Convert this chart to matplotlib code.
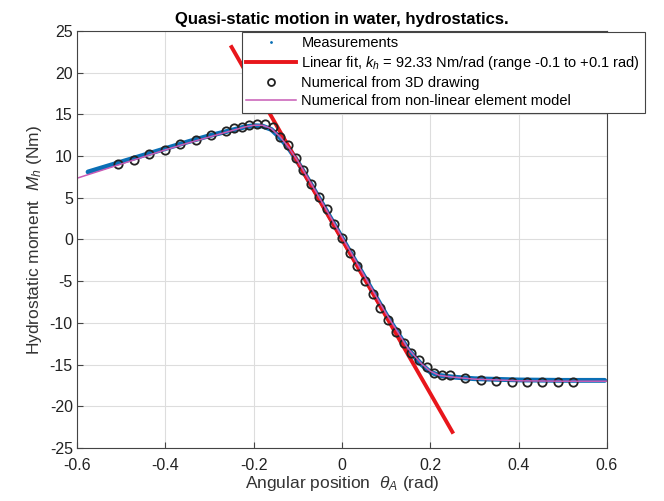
import numpy as np
import matplotlib
matplotlib.use('Agg')
import matplotlib.pyplot as plt
from matplotlib.lines import Line2D

plt.rcParams['font.family'] = ['Liberation Sans', 'DejaVu Sans']
plt.rcParams['mathtext.fontset'] = 'custom'
plt.rcParams['mathtext.it'] = 'Liberation Sans:italic'
plt.rcParams['mathtext.rm'] = 'Liberation Sans'

meas_theta = [-0.575, -0.5, -0.45, -0.4, -0.35, -0.3, -0.25, -0.22, -0.2, -0.18,
              -0.16, -0.14, -0.12, -0.1, -0.05, 0.0, 0.05, 0.1, 0.15, 0.18,
              0.2, 0.22, 0.25, 0.3, 0.4, 0.5, 0.595]
meas_moment = [8.1, 9.3, 10.1, 10.9, 11.7, 12.45, 13.1, 13.5, 13.65, 13.6,
               13.2, 12.2, 10.9, 9.3, 4.8, 0.2, -4.4, -9.0, -13.2, -15.0,
               -15.9, -16.3, -16.5, -16.7, -16.85, -16.9, -16.9]

# Linear fit
kh = 92.33
fit_theta = [-0.25, 0.25]

# Numerical from 3D drawing (degrees)
num3d_deg = [-29, -27, -25, -23, -21, -19, -17, -15, -14, -13, -12, -11, -10, -9,
             -8, -7, -6, -5, -4, -3, -2, -1, 0, 1, 2, 3, 4, 5, 6, 7, 8, 9, 10,
             11, 12, 13, 14, 16, 18, 20, 22, 24, 26, 28, 30]
num3d_moment = [9.0, 9.5, 10.2, 10.7, 11.4, 11.9, 12.5, 13.0, 13.4, 13.5, 13.7, 13.9, 13.8, 13.45,
                12.3, 11.3, 9.8, 8.3, 6.7, 5.1, 3.6, 1.8, 0.2, -1.6, -3.2, -5.0, -6.5, -8.25,
                -9.65, -11.05, -12.45, -13.6, -14.5, -15.3, -15.97, -16.3, -16.3, -16.65,
                -16.85, -16.97, -17.05, -17.05, -17.05, -17.05, -17.05]

# Numerical from non-linear element model
nl_theta = [-0.6, -0.55, -0.5, -0.45, -0.4, -0.35, -0.3, -0.25, -0.22, -0.2, -0.18,
            -0.16, -0.14, -0.12, -0.1, -0.05, 0.0, 0.05, 0.1, 0.15, 0.18, 0.2,
            0.22, 0.25, 0.3, 0.4, 0.5, 0.6]
nl_moment = [7.35, 8.2, 9.05, 9.9, 10.75, 11.55, 12.3, 13.05, 13.5, 13.7, 13.7,
             13.3, 12.3, 11.0, 9.4, 4.9, 0.3, -4.3, -8.9, -13.1, -14.9, -15.8,
             -16.3, -16.5, -16.75, -16.95, -17.0, -17.0]

fig = plt.figure(figsize=(6.64, 5.01), dpi=100)
ax = fig.add_axes([0.116, 0.106, 0.798, 0.832])

ax.plot(meas_theta, meas_moment, color='#0a6fb5', lw=3.5, solid_capstyle='round')
fit_theta = np.array(fit_theta)
ax.plot(fit_theta, -kh * fit_theta, color='#e8161b', lw=2.8)
ax.plot(np.deg2rad(num3d_deg), num3d_moment, 'o', mfc='none', mec='#222222', mew=1.3, ms=6)
ax.plot(nl_theta, nl_moment, color='#c85bb5', lw=1.1)

ax.set_xlim(-0.6, 0.6)
ax.set_ylim(-25, 25)
ax.set_xticks(np.arange(-0.6, 0.61, 0.2))
ax.set_xticklabels(['-0.6', '-0.4', '-0.2', '0', '0.2', '0.4', '0.6'])
ax.set_yticks(np.arange(-25, 26, 5))
ax.set_yticklabels([str(v) for v in range(-25, 26, 5)])
ax.grid(True, color='#dddddd', lw=0.8)
ax.set_axisbelow(True)
ax.tick_params(direction='in', labelsize=11.5, length=4, color='#444444', labelcolor='#222222')
ax.tick_params(axis='x', pad=7)
ax.tick_params(axis='y', pad=3)
for s in ax.spines.values():
    s.set_color('#444444')

ax.set_title('Quasi-static motion in water, hydrostatics.', fontsize=12, fontweight='bold', pad=5)
ax.set_xlabel(r'Angular position  $\theta_A$ (rad)', fontsize=12.5, color='#333333', labelpad=1)
ax.set_ylabel(r'Hydrostatic moment  $M_h$ (Nm)', fontsize=12.5, color='#333333')

handles = [
    Line2D([], [], marker='.', ms=2, ls='none', color='#0a6fb5'),
    Line2D([], [], color='#e8161b', lw=2.8),
    Line2D([], [], marker='o', ls='none', mfc='none', mec='#222222', mew=1.3, ms=5),
    Line2D([], [], color='#c85bb5', lw=1.1),
]
labels = ['Measurements',
          r'Linear fit, $k_h$ = 92.33 Nm/rad (range -0.1 to +0.1 rad)',
          'Numerical from 3D drawing',
          'Numerical from non-linear element model']
leg = fig.legend(handles, labels, loc='upper left', bbox_to_anchor=(0.364, 0.937),
                 borderaxespad=0, fontsize=10.5, frameon=True, fancybox=False, framealpha=1,
                 edgecolor='#444444', handlelength=3.4, borderpad=0.3,
                 labelspacing=0.28, handletextpad=0.4)
leg.get_frame().set_linewidth(0.8)

fig.savefig('out.png', dpi=100)
